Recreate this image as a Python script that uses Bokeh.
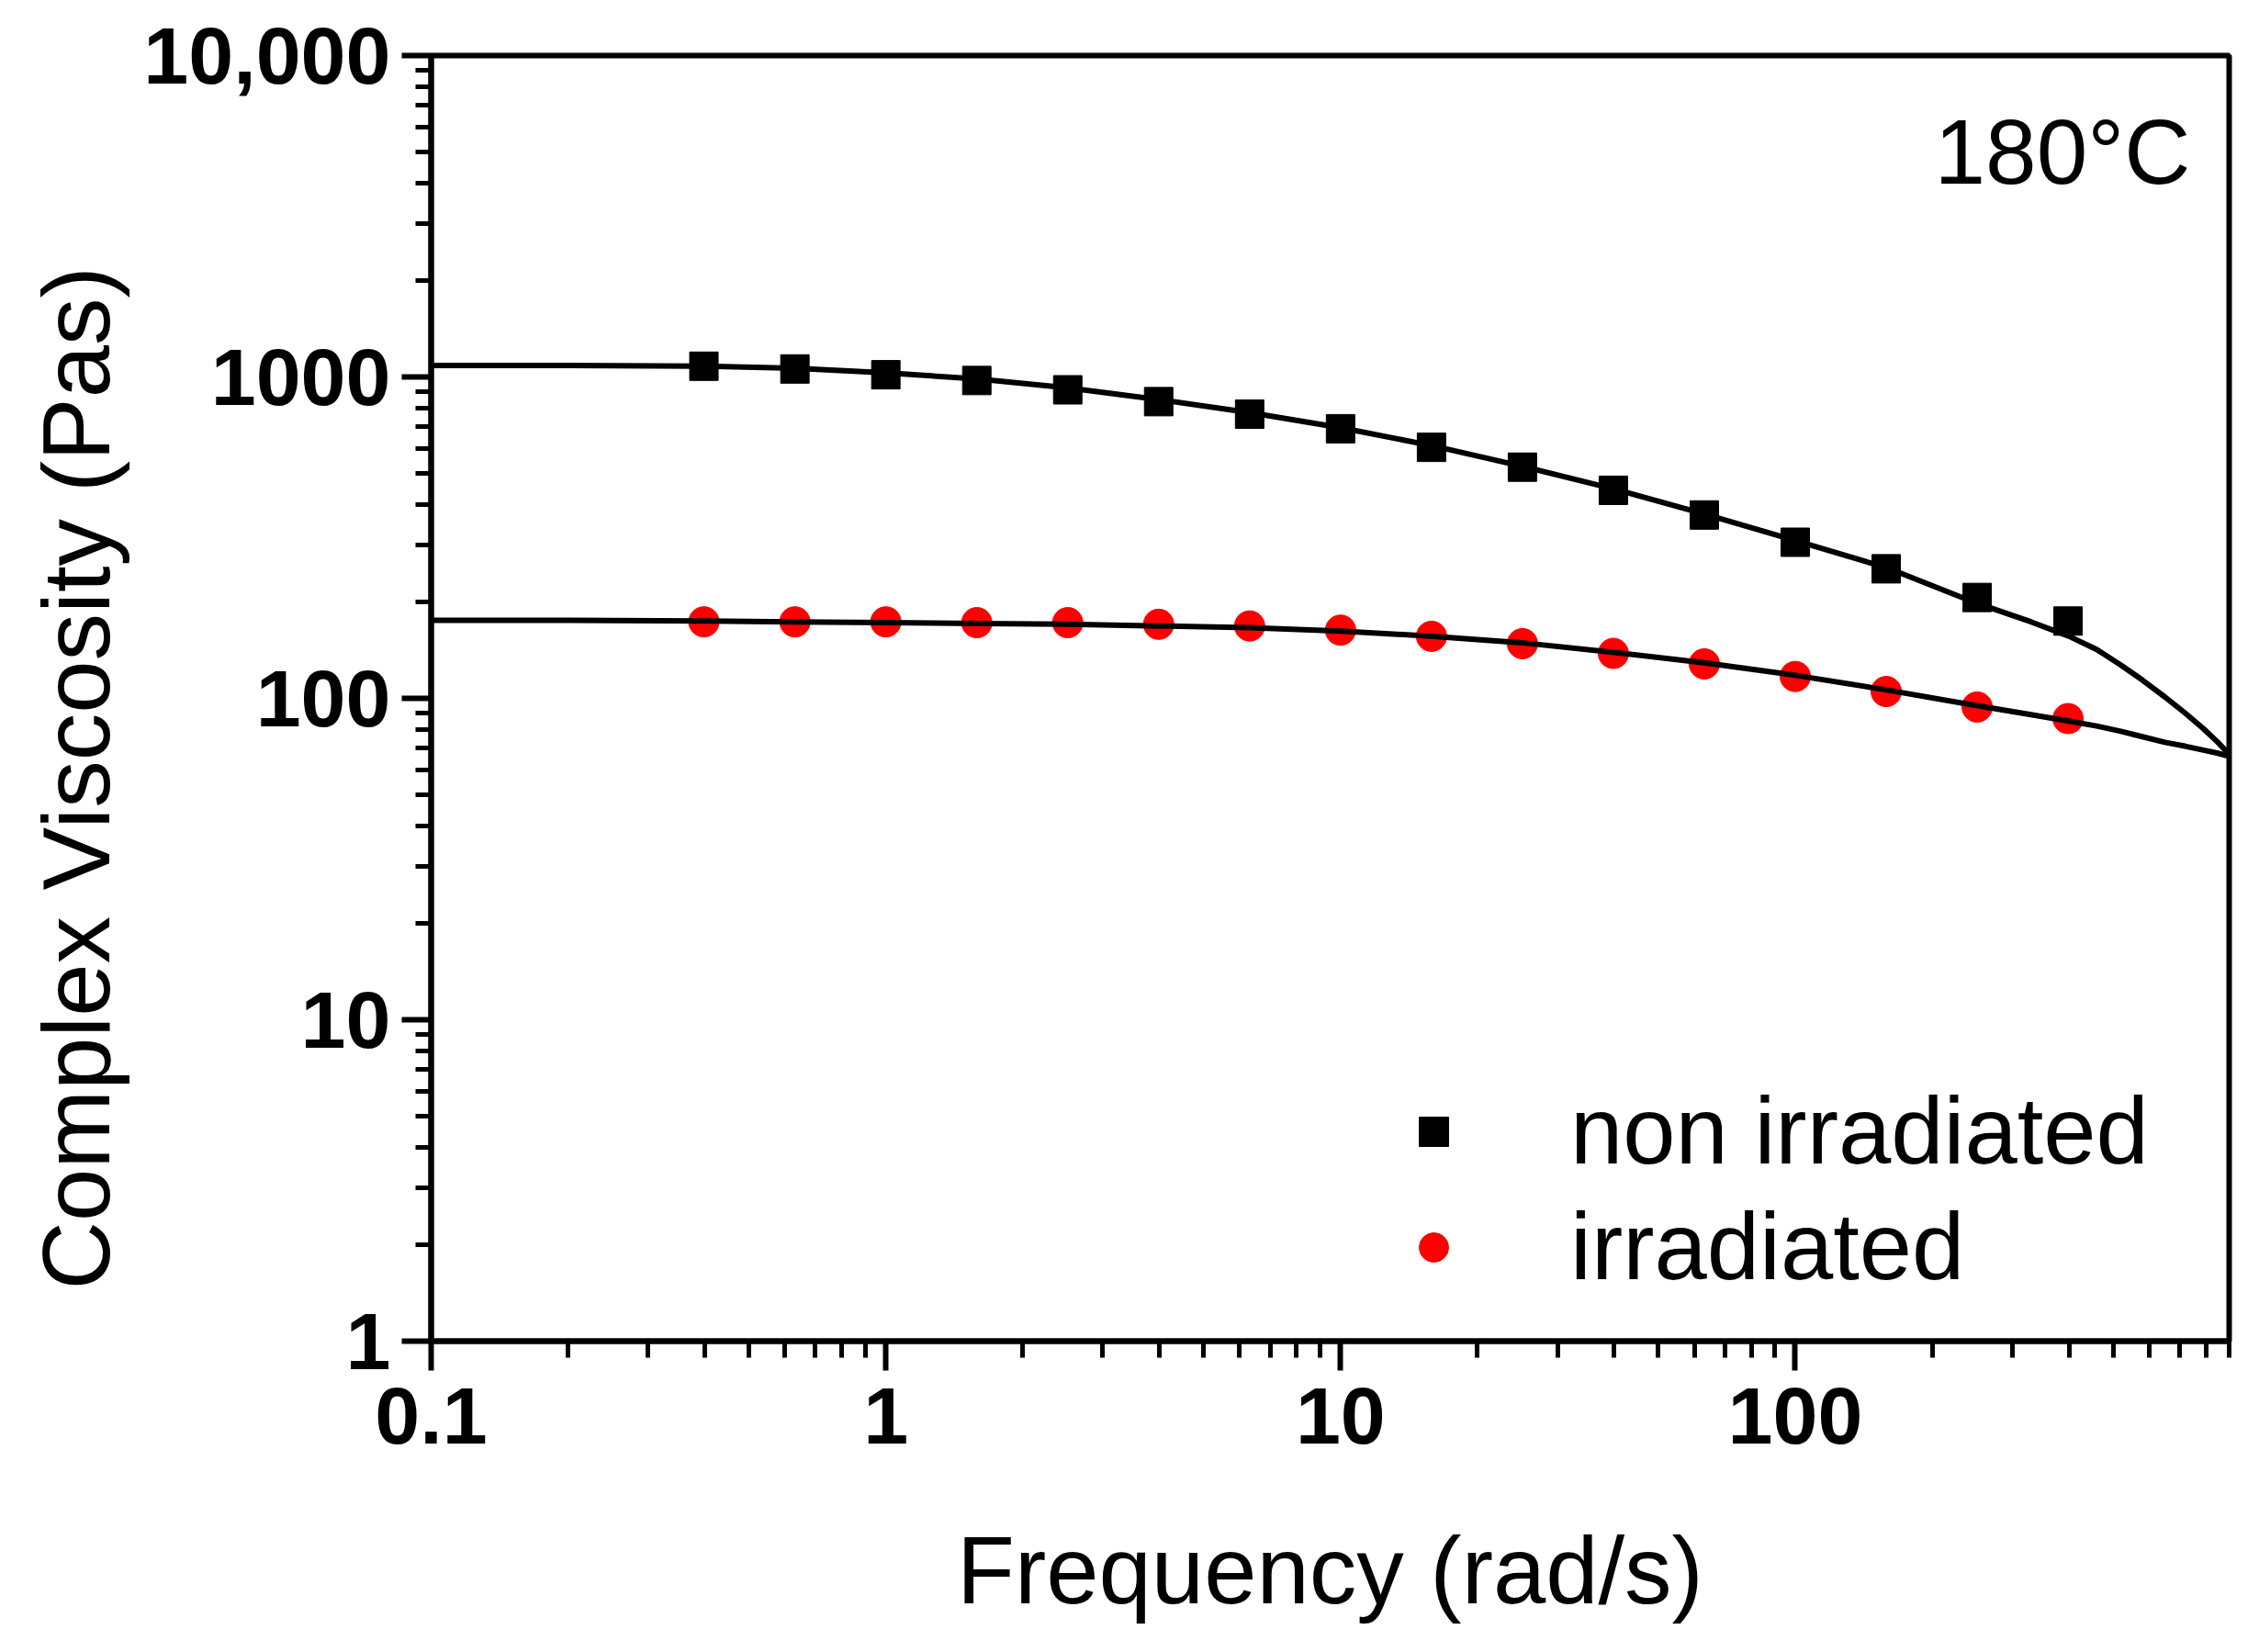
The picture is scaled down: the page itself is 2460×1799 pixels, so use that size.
from bokeh.plotting import figure
from bokeh.models import FixedTicker, Label, Legend, LegendItem, Title
from bokeh.embed import file_html
from bokeh.resources import INLINE

# Complex viscosity at 180°C, measured points and fitted curves

freq = [0.398, 0.631, 1.0, 1.585, 2.512, 3.981, 6.31, 10.0, 15.85, 25.12,
        39.81, 63.1, 100.0, 158.5, 251.2, 398.1]
non_irradiated = [1080, 1059, 1016, 975, 912, 838, 766, 690, 604, 524,
                  444, 372, 306, 253, 206, 174]
irradiated = [173, 173, 173, 172, 172, 170, 168, 163, 156, 148,
              138, 128, 117, 105, 94, 86.5]

# fitted lines
fit_freq = [0.1, 0.2, 0.4, 0.63, 1.0, 1.6, 2.5, 4.0, 6.3, 10, 16, 25, 40,
            63, 100, 160, 250, 330, 400, 460, 520, 580, 650, 720, 790,
            850, 900]
fit_non_irradiated = [1085, 1085, 1080, 1065, 1030, 985, 925, 850, 775, 695,
                      610, 528, 448, 375, 310, 254, 198, 173, 156, 142, 127,
                      114, 101, 90, 80.5, 73, 67]
fit_irradiated = [175, 175, 174, 173, 172, 171, 170, 168, 166, 162, 156,
                  149, 139, 129, 118, 106, 95, 89, 85, 82, 79, 76, 73, 71,
                  69, 67.5, 66]

x_ticks = [0.1, 1, 10, 100]
x_tick_labels = ["0.1", "1", "10", "100"]
y_ticks = [1, 10, 100, 1000, 10000]
y_tick_labels = ["1", "10", "100", "1000", "10,000"]

FONT = "Liberation Sans"

p = figure(x_axis_type="log", y_axis_type="log",
           x_range=(0.1, 900), y_range=(1, 10000),
           width=2444, height=1783,
           min_border_left=469, min_border_right=17,
           min_border_top=60, min_border_bottom=323,
           output_backend="svg", toolbar_location=None)

p.grid.visible = False
p.outline_line_color = "black"
p.outline_line_width = 6

sq = p.scatter(freq, non_irradiated, marker="square", size=31, color="black")
ci = p.scatter(freq, irradiated, marker="circle", size=33, color="red")
p.line(fit_freq, fit_non_irradiated, line_color="black", line_width=6)
p.line(fit_freq, fit_irradiated, line_color="black", line_width=6)

x_minor = [m * d for d in [0.1, 1, 10, 100] for m in range(2, 10)]
y_minor = [m * d for d in [1, 10, 100, 1000] for m in range(2, 10)]
p.xaxis.ticker = FixedTicker(ticks=x_ticks, minor_ticks=x_minor)
p.yaxis.ticker = FixedTicker(ticks=y_ticks, minor_ticks=y_minor)
p.xaxis.major_label_overrides = dict(zip(x_ticks, x_tick_labels))
p.yaxis.major_label_overrides = dict(zip(y_ticks, y_tick_labels))

for ax in [p.xaxis[0], p.yaxis[0]]:
    ax.axis_line_width = 6
    ax.major_tick_line_width = 6
    ax.minor_tick_line_width = 5
    ax.major_tick_in = 0
    ax.minor_tick_in = 0
    ax.major_label_text_font = FONT
    ax.major_label_text_font_style = "bold"
    ax.major_label_text_font_size = "88px"
    ax.major_label_text_color = "black"

p.xaxis.major_tick_out = 32
p.xaxis.minor_tick_out = 18
p.xaxis.major_label_standoff = 18
p.yaxis.major_tick_out = 32
p.yaxis.minor_tick_out = 17
p.yaxis.major_label_standoff = 12

p.xaxis.axis_label = "Frequency (rad/s)"
p.xaxis.axis_label_text_font = FONT
p.xaxis.axis_label_text_font_style = "normal"
p.xaxis.axis_label_text_font_size = "103px"
p.xaxis.axis_label_text_color = "black"
p.xaxis.axis_label_standoff = 78

ytitle = Title(text="Complex Viscosity (Pas)", align="left", offset=56,
               standoff=26, text_font=FONT, text_font_style="normal",
               text_font_size="103px", text_color="black")
p.add_layout(ytitle, "left")

temp = Label(x=900, y=10000, x_offset=-42, y_offset=-48, text="180°C",
             text_font=FONT, text_font_size="100px", text_color="black",
             text_align="right", text_baseline="top")
p.add_layout(temp)

legend = Legend(items=[LegendItem(label="non irradiated", renderers=[sq]),
                       LegendItem(label="irradiated", renderers=[ci])],
                location=(1052, 43), glyph_width=80, glyph_height=80,
                label_standoff=109, label_text_font=FONT,
                label_text_font_size="103px", label_text_color="black",
                spacing=8, padding=0, margin=0, border_line_color=None,
                background_fill_alpha=0)
p.add_layout(legend)

open("out.html", "w").write(file_html(p, INLINE))
